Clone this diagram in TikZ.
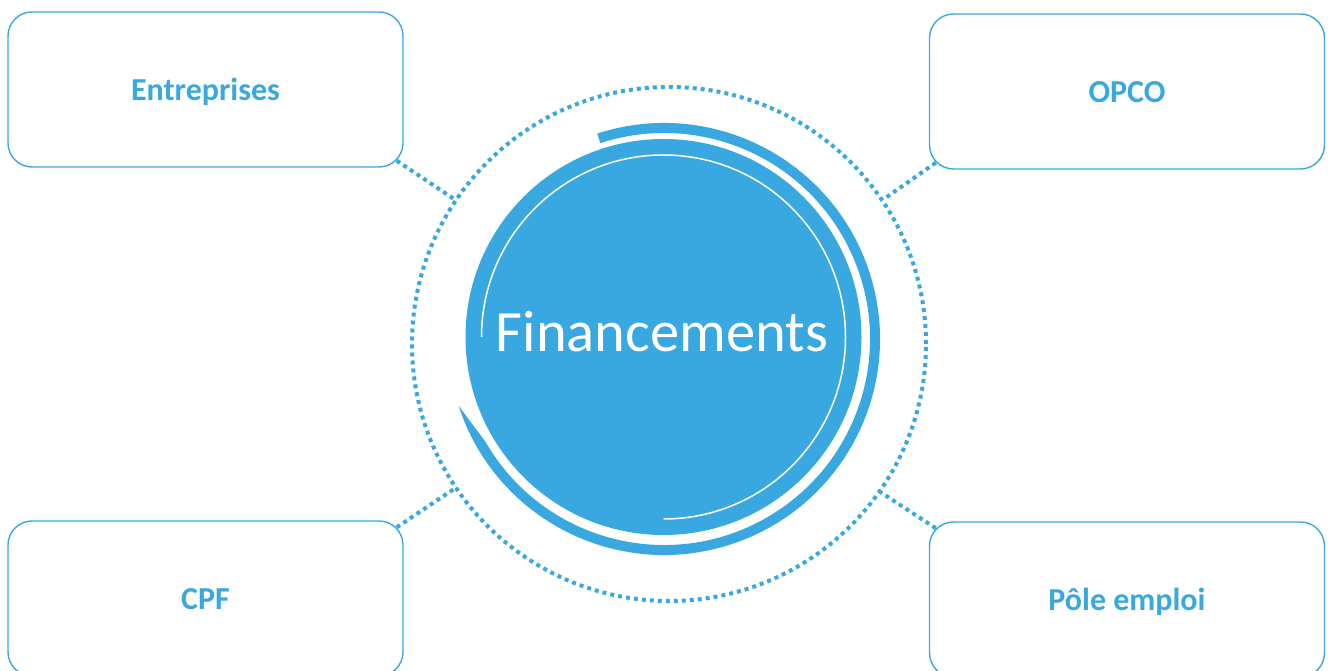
\documentclass[tikz,border=0pt]{standalone}
\usepackage{fontspec}
\setmainfont{Carlito}
\usepackage{tikz}
\definecolor{finblue}{HTML}{3AA8E0}

\begin{document}
\begin{tikzpicture}[x=1pt,y=1pt,
    box/.style={draw=finblue, line width=1.4pt, rounded corners=24pt,
      minimum width=395pt, minimum height=155pt, inner sep=0pt,
      text height=22pt, text depth=0pt,
      text=finblue, font=\fontsize{32}{36}\selectfont\bfseries},
    dotline/.style={draw=finblue, line width=4pt, dash pattern=on 4pt off 4pt}]
  \useasboundingbox (0,0) rectangle (1336,671);
  \clip (0,0) rectangle (1336,671);

  \node[circle, dotline, minimum size=514pt, inner sep=0pt] (ring) at (669,327) {};
  \coordinate (mid) at (664,332);
  \fill[finblue] ([shift={(108:216)}]mid) arc[start angle=108, end angle=-162, radius=216]
      -- ([shift={(-150:206)}]mid) arc[start angle=-150, end angle=108, radius=206] -- cycle;
  \node[circle, fill=finblue, minimum size=396pt, inner sep=0pt] (fin) at (663.5,334) {};
  \draw[white, line width=1.5pt] ([shift={(180:182)}]fin.center) arc[start angle=180, end angle=-90, radius=182];
  \node[text=white, font=\fontsize{58.5}{60}\selectfont] (fintext) at ([shift={(-1.5,5.5)}]fin.center) {Financements};

  \node[box] (ent) at (205.5,581.5) {Entreprises};
  \node[box] (opco) at (1127,579.5) {OPCO};
  \node[box] (cpf) at (205.5,72.5) {CPF};
  \node[box] (pole) at (1127,71.5) {Pôle emploi};

  \draw[dotline] ([shift={(-7,7)}]ent.south east) -- (ring.146);
  \draw[dotline] ([shift={(7,7)}]opco.south west) -- (ring.34);
  \draw[dotline] ([shift={(-7,-7)}]cpf.north east) -- (ring.-146);
  \draw[dotline] ([shift={(7,-7)}]pole.north west) -- (ring.-35);
\end{tikzpicture}
\end{document}
